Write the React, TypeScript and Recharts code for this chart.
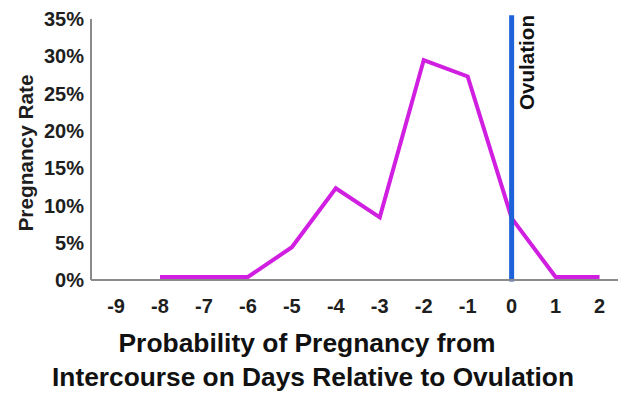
import { LineChart, Line, XAxis, YAxis, ReferenceLine, Label } from "recharts"

// days relative to ovulation and pregnancy rate (%)
const days = [-8, -7, -6, -5, -4, -3, -2, -1, 0, 1, 2]
const rates = [0.4, 0.4, 0.4, 4.4, 12.3, 8.4, 29.5, 27.3, 8.3, 0.4, 0.4]

const xTicks = [-9, -8, -7, -6, -5, -4, -3, -2, -1, 0, 1, 2]
const yTicks = [0, 5, 10, 15, 20, 25, 30, 35]

const titleLines = ["Probability of Pregnancy from", "Intercourse on Days Relative to Ovulation"]

const data = days.map((day, i) => ({ day, rate: rates[i] }))

const tickFont = "'Liberation Sans Narrow', 'Liberation Sans', Arial, sans-serif"
const font = "'Liberation Sans', Arial, sans-serif"

export default function App() {
  return (
    <div style={{ position: "absolute", left: 0, top: 0, width: 622, height: 394, background: "#fff" }}>
      <LineChart width={622} height={394} data={data} margin={{ top: 19, right: 4, bottom: 84, left: 0 }}>
        <XAxis
          dataKey="day"
          type="number"
          domain={[-9.57, 2.42]}
          ticks={xTicks}
          interval={0}
          allowDataOverflow
          height={30}
          stroke="#8a8a8a"
          strokeWidth={2}
          tickLine={false}
          tickSize={0}
          tickMargin={19}
          tick={{ fill: "#1e1e1e", fontSize: 20, fontWeight: 700, fontFamily: tickFont }}
        >
          <Label
            content={() => (
              <g fontFamily={font} fontWeight={700} fontSize={26} fill="#111">
                <text x={307} y={352} textAnchor="middle" textLength={377} lengthAdjust="spacingAndGlyphs">
                  {titleLines[0]}
                </text>
                <text x={313} y={386} textAnchor="middle" textLength={522} lengthAdjust="spacingAndGlyphs">
                  {titleLines[1]}
                </text>
              </g>
            )}
          />
        </XAxis>
        <YAxis
          type="number"
          domain={[0, 35]}
          ticks={yTicks}
          interval={0}
          width={91}
          stroke="#8a8a8a"
          strokeWidth={2}
          tickLine={false}
          tickSize={0}
          tickMargin={7}
          tickFormatter={(v) => `${v}%`}
          tick={{ fill: "#1e1e1e", fontSize: 20, fontWeight: 700, fontFamily: tickFont }}
        >
          <Label
            content={() => (
              <text
                x={33}
                y={153}
                transform="rotate(-90, 33, 153)"
                textAnchor="middle"
                textLength={157}
                lengthAdjust="spacingAndGlyphs"
                fontFamily={font}
                fontWeight={700}
                fontSize={21}
                fill="#1e1e1e"
              >
                Pregnancy Rate
              </text>
            )}
          />
        </YAxis>
        <Line
          type="linear"
          dataKey="rate"
          stroke="#d01fe0"
          strokeWidth={4}
          dot={false}
          activeDot={false}
          isAnimationActive={false}
        />
        <ReferenceLine
          segment={[{ x: 0, y: 35.5 }, { x: 0, y: -0.2 }]}
          stroke="#1d62d8"
          strokeWidth={5}
          ifOverflow="visible"
        >
          <Label
            content={({ viewBox }: any) => {
              const x = viewBox.x + 22
              const y = 15
              return (
                <text
                  x={x}
                  y={y}
                  transform={`rotate(-90, ${x}, ${y})`}
                  textAnchor="end"
                  textLength={95}
                  lengthAdjust="spacingAndGlyphs"
                  fontFamily={font}
                  fontWeight={700}
                  fontSize={20}
                  fill="#111"
                >
                  Ovulation
                </text>
              )
            }}
          />
        </ReferenceLine>
      </LineChart>
    </div>
  )
}
